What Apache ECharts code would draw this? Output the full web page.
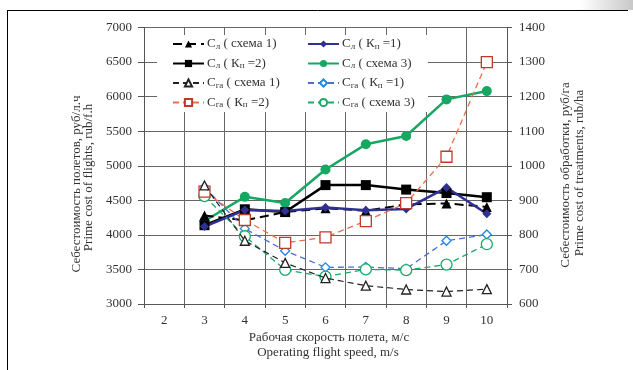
<!DOCTYPE html>
<html><head><meta charset="utf-8">
<script src="https://cdn.jsdelivr.net/npm/echarts@6/dist/echarts.min.js"></script>
<style>html,body{margin:0;padding:0;background:#fff}#c{width:633px;height:370px}</style>
</head><body><div id="c"></div>
<script>
const categories = ['2','3','4','5','6','7','8','9','10'];
// Flight cost (left axis, rub/f.h)
const slScheme1 = [null, 4280, 4210, 4330, 4385, 4350, 4440, 4455, 4405];
const slKp1     = [null, 4120, 4360, 4345, 4395, 4355, 4375, 4685, 4305];
const slKp2     = [null, 4140, 4370, 4330, 4720, 4720, 4655, 4605, 4545];
const slScheme3 = [null, 4200, 4550, 4460, 4945, 5310, 5430, 5960, 6080];
// Treatment cost (right axis, rub/ha)
const sgaScheme1 = [null, 943, 783, 719, 675, 653, 642, 636, 643];
const sgaKp1     = [null, 938, 818, 754, 706, 707, 702, 783, 801];
const sgaKp2     = [null, 925, 843, 777, 793, 840, 892, 1026, 1300];
const sgaScheme3 = [null, 912, 796, 699, 679, 700, 698, 714, 773];

const leftTicks = [3000, 7000, 500];
const rightTicks = [600, 1400, 100];

const FONT = 'Liberation Serif';
const TXT = '#333';

const names = {
  a: 'Сл ( схема 1)', b: 'Сл ( Кп =1)', c: 'Сл ( Кп =2)', d: 'Сл ( схема 3)',
  e: 'Сга ( схема 1)', f: 'Сга ( Кп =1)', g: 'Сга ( Кп =2)', h: 'Сга ( схема 3)'
};
const richLabels = {};
richLabels[names.a] = '{n|С}{s|л}{n| ( схема 1)}';
richLabels[names.b] = '{n|С}{s|л}{n| ( К}{s|п}{n| =1)}';
richLabels[names.c] = '{n|С}{s|л}{n| ( К}{s|п}{n| =2)}';
richLabels[names.d] = '{n|С}{s|л}{n| ( схема 3)}';
richLabels[names.e] = '{n|С}{s|га}{n| ( схема 1)}';
richLabels[names.f] = '{n|С}{s|га}{n| ( К}{s|п}{n| =1)}';
richLabels[names.g] = '{n|С}{s|га}{n| ( К}{s|п}{n| =2)}';
richLabels[names.h] = '{n|С}{s|га}{n| ( схема 3)}';

function ser(name, data, axis, color, lineType, lineWidth, symbol, size, fill, border, z) {
  return {
    name: name, type: 'line', yAxisIndex: axis, data: data,
    connectNulls: false, symbol: symbol, symbolSize: size, z: z || 2,
    lineStyle: { color: color, width: lineWidth, type: lineType },
    itemStyle: { color: fill, borderColor: border, borderWidth: fill === '#fff' ? 1.3 : 0 },
    emphasis: { disabled: true }
  };
}

const green = '#16a862';
const navy = '#2e3192';
const series = [
  ser(names.d, slScheme3, 0, green, 'solid', 2.5, 'circle', 10, green, green, 3),
  ser(names.c, slKp2, 0, '#000', 'solid', 2.5, 'rect', 10, '#000', '#000', 3),
  ser(names.a, slScheme1, 0, '#000', [9, 5], 2, 'triangle', 10, '#000', '#000', 3),
  ser(names.b, slKp1, 0, navy, 'solid', 2.5, 'diamond', 9, navy, navy, 3),
  ser(names.f, sgaKp1, 1, '#4a6fd0', [6, 4], 1.3, 'diamond', 9, '#fff', '#1e88e5', 5),
  ser(names.h, sgaScheme3, 1, '#1aaa6a', [6, 4], 1.3, 'circle', 11, '#fff', '#1aaa6a', 5),
  ser(names.g, sgaKp2, 1, '#e8704a', [6, 4], 1.3, 'rect', 11, '#fff', '#c0392b', 5),
  ser(names.e, sgaScheme1, 1, '#222', [6, 4], 1.2, 'triangle', 9, '#fff', '#222', 6)
];

const legendBase = {
  orient: 'vertical', top: 37, itemWidth: 31, itemHeight: 9, itemGap: 5.5,
  padding: 0, selectedMode: false,
  formatter: function (n) { return richLabels[n]; },
  textStyle: {
    fontFamily: FONT, color: TXT, fontSize: 13, lineHeight: 14, padding: [0, 0, 0, -2],
    rich: {
      n: { fontFamily: FONT, fontSize: 13, color: TXT, lineHeight: 14, verticalAlign: 'middle' },
      s: { fontFamily: FONT, fontSize: 9, color: TXT, lineHeight: 14, verticalAlign: 'bottom' }
    }
  }
};

function vtext(x, y, t) {
  return {
    type: 'text', x: x, y: y, rotation: Math.PI / 2, z: 20,
    style: { text: t, fill: TXT, font: '13px "' + FONT + '"', align: 'center', verticalAlign: 'middle',
             textAlign: 'center', textVerticalAlign: 'middle' }
  };
}
function htext(x, y, t) {
  return {
    type: 'text', x: x, y: y, z: 20,
    style: { text: t, fill: TXT, font: '13px "' + FONT + '"', align: 'center', verticalAlign: 'middle',
             textAlign: 'center', textVerticalAlign: 'middle' }
  };
}

const plain = function (v) { return String(v); };

const option = {
  animation: false,
  backgroundColor: '#fff',
  grid: { left: 144, right: 126, top: 27.5, bottom: 66, containLabel: false },
  legend: [
    Object.assign({}, legendBase, { left: 172, data: [names.a, names.c, names.e, names.g] }),
    Object.assign({}, legendBase, { left: 307, data: [names.b, names.d, names.f, names.h] })
  ],
  xAxis: {
    type: 'category', data: categories, boundaryGap: true,
    axisLine: { lineStyle: { color: '#555', width: 1 } },
    axisTick: { show: true, length: 4, lineStyle: { color: '#555' } },
    axisLabel: { fontFamily: FONT, fontSize: 13, color: TXT, margin: 10 },
    splitLine: { show: true, lineStyle: { color: '#666', width: 1 } }
  },
  yAxis: [
    {
      type: 'value', min: leftTicks[0], max: leftTicks[1], interval: leftTicks[2], position: 'left',
      axisLine: { show: true, lineStyle: { color: '#555' } },
      axisTick: { show: true, length: 6, lineStyle: { color: '#555' } },
      axisLabel: { fontFamily: FONT, fontSize: 13, color: TXT, margin: 12, formatter: plain },
      splitLine: { show: true, lineStyle: { color: '#666', width: 1 } }
    },
    {
      type: 'value', min: rightTicks[0], max: rightTicks[1], interval: rightTicks[2], position: 'right',
      axisLine: { show: true, lineStyle: { color: '#555' } },
      axisTick: { show: true, length: 5, lineStyle: { color: '#555' } },
      axisLabel: { fontFamily: FONT, fontSize: 13, color: TXT, margin: 12, formatter: plain },
      splitLine: { show: false }
    }
  ],
  graphic: [
    { type: 'rect', z: 1, shape: { x: 157, y: 35, width: 271, height: 77 }, style: { fill: '#fff' } },
    { type: 'rect', z: 0, shape: { x: 580, y: 0, width: 53, height: 10 },
      style: { fill: { type: 'linear', x: 0, y: 0, x2: 1, y2: 0,
        colorStops: [{ offset: 0, color: 'rgba(255,255,255,1)' }, { offset: 1, color: 'rgba(200,200,200,1)' }] } } },
    { type: 'line', z: 20, shape: { x1: 7, y1: 10.5, x2: 628, y2: 10.5 }, style: { stroke: '#000', lineWidth: 1 } },
    { type: 'line', z: 20, shape: { x1: 7.5, y1: 10, x2: 7.5, y2: 370 }, style: { stroke: '#000', lineWidth: 1 } },
    vtext(77, 184, 'Себестоимость полетов, руб/л.ч'),
    vtext(89, 177.5, 'Prime cost of flights, rub/f.h'),
    vtext(566, 175, 'Себестоимость обработки, руб/га'),
    vtext(580, 173, 'Prime cost of treatments, rub/ha'),
    htext(329, 338, 'Рабочая скорость полета, м/с'),
    htext(328, 353, 'Operating flight speed, m/s')
  ],
  series: series
};

const chart = echarts.init(document.getElementById('c'), null, { renderer: 'canvas' });
chart.setOption(option);
</script>
</body></html>
